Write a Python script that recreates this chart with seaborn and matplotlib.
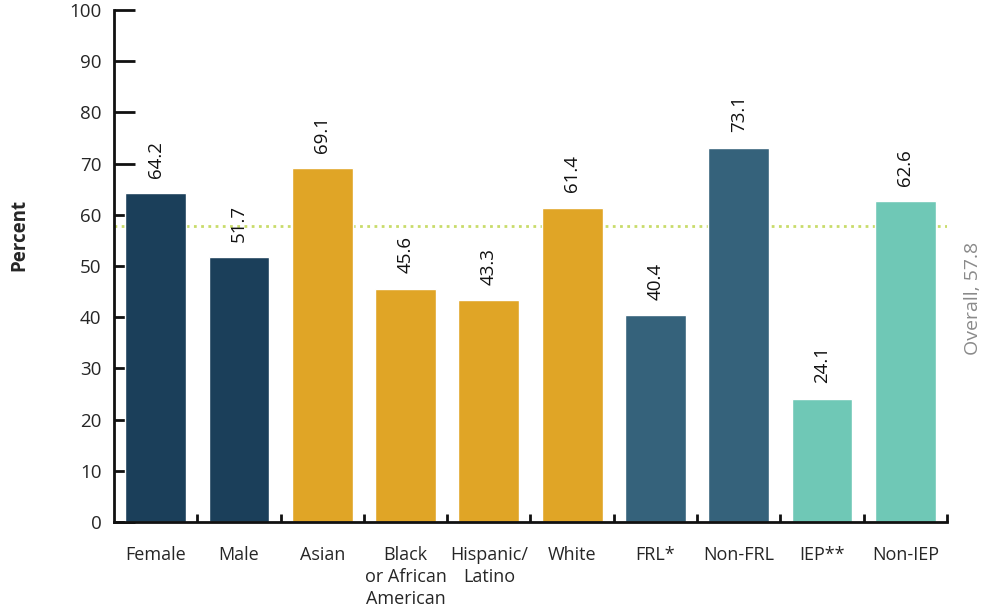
import numpy as np
import pandas as pd
import matplotlib
matplotlib.use("Agg")
import matplotlib.pyplot as plt
import seaborn as sns

categories = ["Female", "Male", "Asian", "Black\nor African\nAmerican", "Hispanic/\nLatino",
              "White", "FRL*", "Non-FRL", "IEP**", "Non-IEP"]
values = [64.2, 51.7, 69.1, 45.6, 43.3, 61.4, 40.4, 73.1, 24.1, 62.6]
colors = ["#1b3f5a", "#1b3f5a", "#e0a526", "#e0a526", "#e0a526", "#e0a526",
          "#35627b", "#35627b", "#6fc8b6", "#6fc8b6"]
overall = 57.8

sns.set_style("white")
plt.rcParams["font.family"] = ["Open Sans", "DejaVu Sans"]

df = pd.DataFrame({"group": categories, "pct": values})

fig = plt.figure(figsize=(9.89, 6.16), dpi=100)
ax = fig.add_axes([0.1153, 0.1526, 0.8422, 0.8312])
sns.barplot(data=df, x="group", y="pct", hue="group", palette=colors,
            legend=False, width=0.73, saturation=1, ax=ax)

for i, v in enumerate(values):
    ax.annotate(f"{v:.1f}", (i, v), xytext=(0, 11), textcoords="offset points",
                rotation=90, ha="center", va="bottom", fontsize=13.5, color="#111111")

ax.axhline(overall, color="#c9dc6a", lw=2, ls=(0, (1, 1.6)), zorder=0.5)
ax.text(1.021, overall - 3, f"Overall, {overall}", transform=ax.get_yaxis_transform(),
        rotation=90, ha="left", va="top", fontsize=14, color="#8a8a8a")

ax.set_xlim(-0.5, 9.5)
ax.set_ylim(0, 100)
ax.set_yticks(np.arange(0, 101, 10))
ax.set_xlabel("")
ax.set_ylabel("Percent", fontsize=13.5, fontweight="bold")
ax.yaxis.set_label_coords(-0.102, 0.56)

for s in ["top", "right"]:
    ax.spines[s].set_visible(False)
for s in ["left", "bottom"]:
    ax.spines[s].set_linewidth(2)
    ax.spines[s].set_color("#111111")

ax.tick_params(axis="y", direction="in", length=15, width=2, color="#111111",
               labelsize=13.5, pad=9, left=True)
ax.tick_params(axis="x", which="major", length=0, labelsize=13, pad=17)
ax.set_xticks(np.arange(0.5, 10, 1), minor=True)
ax.tick_params(axis="x", which="minor", direction="in", length=6, width=2,
               color="#111111", bottom=True)
for lbl in ax.get_xticklabels():
    lbl.set_verticalalignment("top")
    lbl.set_linespacing(1.3)

fig.savefig("out.png", dpi=100)
